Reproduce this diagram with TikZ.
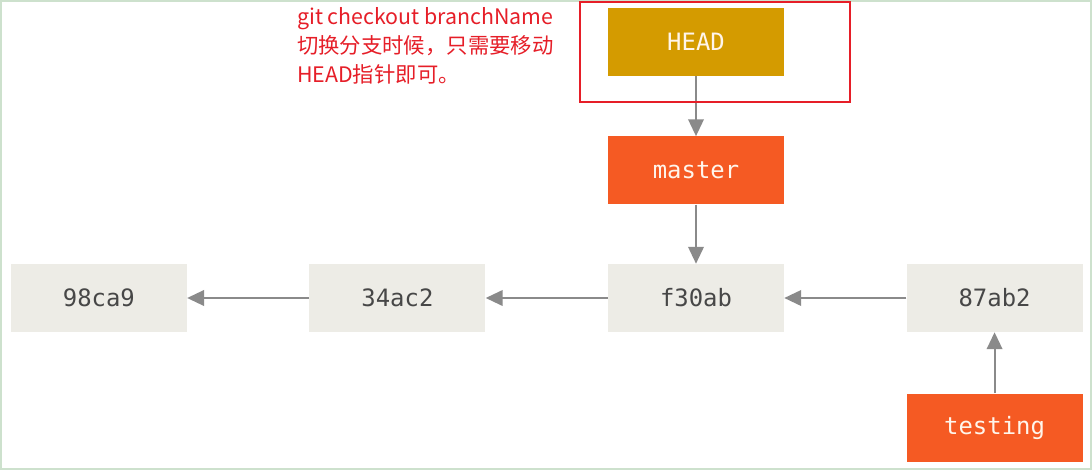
\documentclass[tikz,border=0pt]{standalone}
\usepackage{fontspec}
\usepackage{xcolor}
\usepackage{tikz}
\usetikzlibrary{arrows.meta, positioning}
\newfontfamily\cjk{Noto Sans CJK SC}
\newfontfamily\kodmono{DejaVu Sans Mono}
\definecolor{headsari}{RGB}{212,155,0}
\definecolor{dalturuncu}{RGB}{245,90,35}
\definecolor{commitgri}{RGB}{237,236,230}
\definecolor{okgri}{RGB}{138,138,138}
\definecolor{notkirmizi}{RGB}{230,30,40}
\definecolor{kenaryesil}{RGB}{205,225,205}
\tikzset{
  commit/.style={rectangle, fill=commitgri, minimum width=4.4cm, minimum height=1.7cm, align=center, text=black!72, font=\kodmono\fontsize{17}{20}\selectfont},
  dal/.style={rectangle, fill=dalturuncu, minimum width=4.4cm, minimum height=1.7cm, align=center, text=white!92!orange, font=\kodmono\fontsize{17}{20}\selectfont},
  headblok/.style={dal, fill=headsari},
  ok/.style={-{Triangle[length=12pt, width=11pt]}, draw=okgri, line width=1.5pt},
  notkutu/.style={rectangle, draw=notkirmizi, line width=1.5pt, minimum width=6.75cm, minimum height=2.5cm},
}
\begin{document}
\begin{tikzpicture}[node distance=1.5cm and 3.05cm]
  % Arka plan ve çerçeve
  \fill[white] (0,0) rectangle (27.3,-11.75);
  \draw[kenaryesil, line width=1.5pt] (0.03,-0.03) rectangle (27.27,-11.72);
  \useasboundingbox (0,0) rectangle (27.3,-11.75);
  % Commit sırası
  \node[commit] (f30ab) at (17.4,-7.45) {f30ab};
  \node[commit, left=of f30ab] (c34ac2) {34ac2};
  \node[commit, left=of c34ac2] (c98ca9) {98ca9};
  \node[commit, right=of f30ab] (c87ab2) {87ab2};
  % Dallar ve HEAD
  \node[dal, above=1.475cm of f30ab] (master) {master};
  \node[headblok, above=of master] (head) {HEAD};
  \node[dal, below=1.525cm of c87ab2] (testing) {testing};
  \draw[ok] (head) -- (master);
  \draw[ok] (master) -- (f30ab);
  \draw[ok] (c87ab2) -- (f30ab);
  \draw[ok] (f30ab) -- (c34ac2);
  \draw[ok] (c34ac2) -- (c98ca9);
  \draw[ok] (testing) -- (c87ab2);
  % Açıklama notu
  \node[notkutu] (vurgu) at (17.875,-1.3) {};
  \node[anchor=north west, inner sep=0pt, align=left, text=notkirmizi, font=\cjk\fontsize{15.2}{20.6}\selectfont] (not) at (7.42,-0.19) {git checkout branchName\\切换分支时候，只需要移动\\HEAD指针即可。};
\end{tikzpicture}
\end{document}
